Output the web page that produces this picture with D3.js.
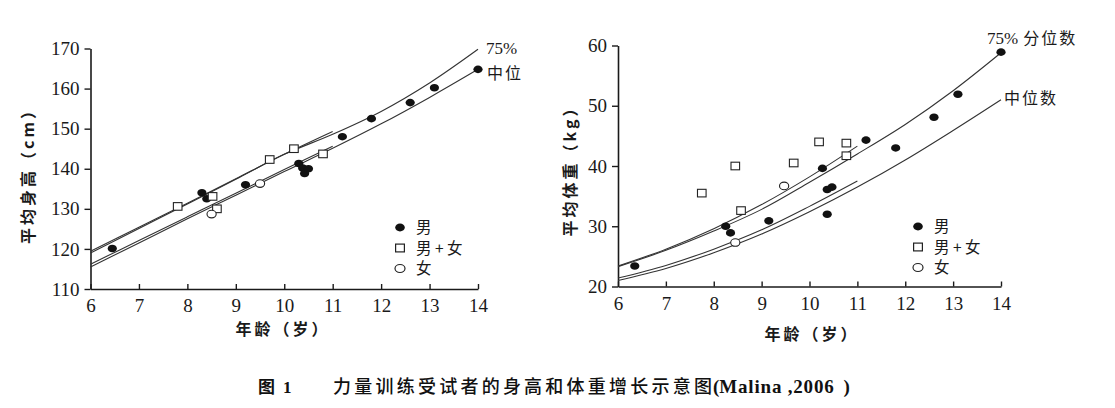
<!DOCTYPE html>
<html><head><meta charset="utf-8">
<script src="https://cdn.jsdelivr.net/npm/d3@7"></script>
<style>
html,body{margin:0;padding:0;background:#fff;}
svg{display:block;}
</style>
</head><body>
<svg id="c" width="1115" height="408"></svg>
<script>
// ---------- data ----------
const xTicks = [6,7,8,9,10,11,12,13,14];
const hTicks = [110,120,130,140,150,160,170];
const wTicks = [20,30,40,50,60];

// height chart
const hBoysAge = [6.45,8.3,8.4,9.2,10.3,10.38,10.42,10.5,11.2,11.8,12.6,13.1,14.0];
const hBoysVal = [120.1,134.0,132.5,136.0,141.3,140.2,138.8,140.0,148.0,152.5,156.5,160.2,164.8];
const hMixAge = [7.8,8.52,8.61,9.7,10.2,10.8];
const hMixVal = [130.6,133.1,130.0,142.3,145.0,143.7];
const hGirlsAge = [8.5,9.5];
const hGirlsVal = [128.7,136.3];
const curveAge = [6,7,8,9,10,11,12,13,14];
const h75 = [119.0,125.1,131.2,137.4,143.6,148.6,154.3,161.4,169.8];
const hMed = [115.5,121.5,127.5,133.4,139.3,145.1,151.2,157.8,164.8];
const shortAge = [6,7,8,9,10,11];
const h75b = [119.4,125.4,131.4,137.5,143.6,149.3];
const hMedb = [116.2,122.1,128.0,133.9,139.8,145.6];

// weight chart
const wBoysAge = [6.35,8.25,8.35,9.15,10.27,10.37,10.47,10.37,11.18,11.8,12.6,13.1,14.0];
const wBoysVal = [23.4,30.0,28.9,30.9,39.6,36.1,36.5,32.0,44.3,43.0,48.1,51.9,58.9];
const wMixAge = [7.75,8.45,8.57,9.67,10.2,10.77,10.77];
const wMixVal = [35.5,40.0,32.6,40.5,44.0,43.8,41.7];
const wGirlsAge = [8.45,9.47];
const wGirlsVal = [27.3,36.7];
const w75 = [23.3,26.0,29.2,32.8,37.3,42.0,46.9,52.5,58.8];
const wMed = [21.0,23.0,25.6,28.7,32.4,36.5,41.0,45.9,51.0];
const w75b = [23.4,26.2,29.6,33.6,38.2,43.3];
const wMedb = [21.4,23.5,26.2,29.4,33.3,37.5];

const legendLabels = ["男","男 + 女","女"];

// ---------- drawing ----------
const svg = d3.select("#c");
const SERIF = "'Liberation Serif','Times New Roman',serif";
const CJK = "'Noto Sans CJK SC','Noto Sans CJK JP',sans-serif";
const INK = "#1a1a1a";

function panel(cfg){
  const x = d3.scaleLinear().domain([6,14]).range(cfg.xr);
  const y = d3.scaleLinear().domain(cfg.yd).range(cfg.yr);
  const g = svg.append("g");

  const ya = g.append("g").attr("transform",`translate(${cfg.xr[0]},0)`)
    .call(d3.axisLeft(y).tickValues(cfg.yTicks).tickSizeInner(6).tickSizeOuter(0).tickPadding(5));
  const xa = g.append("g").attr("transform",`translate(0,${cfg.yr[0]})`)
    .call(d3.axisBottom(x).tickValues(xTicks).tickSizeInner(-5).tickSizeOuter(0).tickPadding(10));
  [ya,xa].forEach(a=>{
    a.selectAll("path.domain").attr("stroke",INK).attr("stroke-width",1.6);
    a.selectAll(".tick line").attr("stroke",INK).attr("stroke-width",1.4);
    a.selectAll("text").attr("font-family",SERIF).attr("font-size",19).attr("fill",INK);
  });

  const line = d3.line().x(d=>x(d[0])).y(d=>y(d[1])).curve(d3.curveCatmullRom.alpha(0.5));
  const addLine = (ages, vals) => g.append("path")
      .attr("d", line(ages.map((a,i)=>[a,vals[i]])))
      .attr("fill","none").attr("stroke","#333").attr("stroke-width",1.1);
  addLine(curveAge, cfg.c75); addLine(curveAge, cfg.cMed);
  addLine(shortAge, cfg.c75b); addLine(shortAge, cfg.cMedb);

  g.selectAll("ellipse.boy").data(cfg.boysAge).enter().append("ellipse")
    .attr("cx",(d)=>x(d)).attr("cy",(d,i)=>y(cfg.boysVal[i]))
    .attr("rx",4.6).attr("ry",3.8).attr("fill","#111");
  g.selectAll("rect.mix").data(cfg.mixAge).enter().append("rect")
    .attr("x",d=>x(d)-4.3).attr("y",(d,i)=>y(cfg.mixVal[i])-3.8)
    .attr("width",8.6).attr("height",7.6).attr("fill","#fff").attr("stroke","#222").attr("stroke-width",1.1);
  g.selectAll("ellipse.girl").data(cfg.girlsAge).enter().append("ellipse")
    .attr("cx",d=>x(d)).attr("cy",(d,i)=>y(cfg.girlsVal[i]))
    .attr("rx",4.6).attr("ry",3.8).attr("fill","#fff").attr("stroke","#222").attr("stroke-width",1.1);

  const lx = cfg.legend[0], ly = cfg.legend[1], step = 20.5;
  g.append("ellipse").attr("cx",lx).attr("cy",ly).attr("rx",4.8).attr("ry",3.9).attr("fill","#111");
  g.append("rect").attr("x",lx-4.4).attr("y",ly+step-3.9).attr("width",8.8).attr("height",7.8)
    .attr("fill","#fff").attr("stroke","#222").attr("stroke-width",1.2);
  g.append("ellipse").attr("cx",lx).attr("cy",ly+2*step).attr("rx",5).attr("ry",4)
    .attr("fill","#fff").attr("stroke","#222").attr("stroke-width",1.2);
  legendLabels.forEach((t,i)=>{
    g.append("text").attr("x",lx+16).attr("y",ly+i*step).attr("dy","0.36em")
      .attr("font-family",CJK).attr("font-size",15.5).attr("fill",INK).text(t);
  });

  g.append("text").attr("transform",`translate(${cfg.yTitle[0]},${cfg.yTitle[1]}) rotate(-90)`)
    .attr("text-anchor","middle").attr("dy","0.36em")
    .attr("font-family",CJK).attr("font-size",16).attr("font-weight",600).attr("letter-spacing",3)
    .attr("fill",INK).text(cfg.yTitleText);
  g.append("text").attr("x",cfg.xTitle[0]).attr("y",cfg.xTitle[1]).attr("text-anchor","middle")
    .attr("dy","0.36em").attr("font-family",CJK).attr("font-size",16).attr("font-weight",600)
    .attr("letter-spacing",3).attr("fill",INK).text("年龄（岁）");

  cfg.curveLabels.forEach(l=>{
    const t = g.append("text").attr("x",l.x).attr("y",l.y).attr("fill",INK).attr("font-size",16);
    if(l.num){ t.append("tspan").attr("font-family",SERIF).attr("font-size",17).text(l.num); }
    if(l.cjk){ t.append("tspan").attr("font-family",CJK).attr("letter-spacing",2).attr("dx",l.num?5:0).text(l.cjk); }
  });
}

panel({
  xr:[90.5,478], yd:[110,170], yr:[289,48.5], yTicks:hTicks,
  boysAge:hBoysAge, boysVal:hBoysVal, mixAge:hMixAge, mixVal:hMixVal, girlsAge:hGirlsAge, girlsVal:hGirlsVal,
  c75:h75, cMed:hMed, c75b:h75b, cMedb:hMedb,
  legend:[400,227.5], yTitle:[28,172], yTitleText:"平均身高（cm）", xTitle:[283,329],
  curveLabels:[{x:486,y:54,num:"75%"},{x:487,y:79,cjk:"中位"}]
});
panel({
  xr:[618,1001], yd:[20,60], yr:[286.5,45.5], yTicks:wTicks,
  boysAge:wBoysAge, boysVal:wBoysVal, mixAge:wMixAge, mixVal:wMixVal, girlsAge:wGirlsAge, girlsVal:wGirlsVal,
  c75:w75, cMed:wMed, c75b:w75b, cMedb:wMedb,
  legend:[918,226.5], yTitle:[570,167], yTitleText:"平均体重（kg）", xTitle:[812,334],
  curveLabels:[{x:987,y:44,num:"75%",cjk:"分位数"},{x:1004,y:104,cjk:"中位数"}]
});

// caption
const cap = svg.append("g").attr("fill","#111");
cap.append("text").attr("x",258).attr("y",393).attr("font-family",CJK).attr("font-size",17).attr("font-weight",600)
  .text("图").append("tspan").attr("font-family",SERIF).attr("font-weight",700).attr("dx",8).text("1");
cap.append("text").attr("x",333).attr("y",393).attr("font-family",CJK).attr("font-size",18).attr("font-weight",500)
  .attr("textLength",379).attr("lengthAdjust","spacing").text("力量训练受试者的身高和体重增长示意图");
const c3 = cap.append("text").attr("x",713).attr("y",393).attr("font-size",19).attr("font-weight",700);
c3.append("tspan").attr("font-family",SERIF).text("(");
c3.append("tspan").attr("font-family",SERIF).attr("letter-spacing",0.8).text("Malina ,2006");
c3.append("tspan").attr("font-family",SERIF).attr("dx",9).text(")");
</script>
</body></html>
